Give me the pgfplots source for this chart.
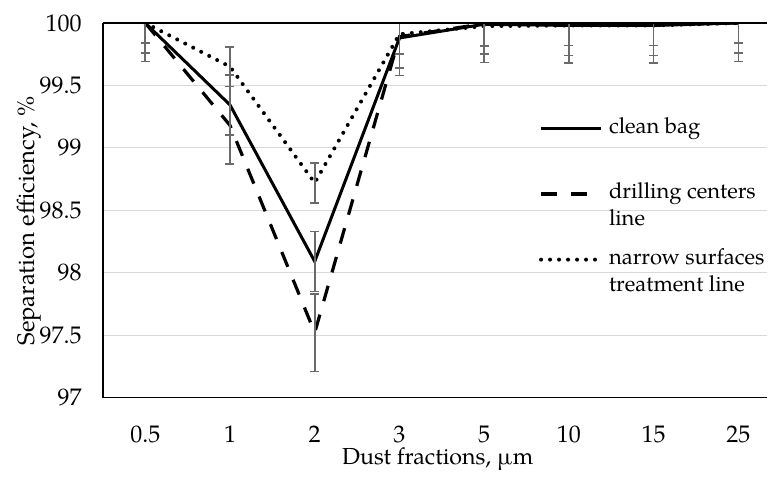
\documentclass[border=0pt,12pt]{standalone}
\usepackage{pgfplots}
\pgfplotsset{compat=1.18}
\usepackage{fontspec}
\setmainfont{TeX Gyre Pagella}

\definecolor{errgray}{HTML}{6A6A6A}
\definecolor{gridgray}{HTML}{D9D9D9}

\pgfplotsset{
  errstyle/.style={
    error bars/.cd,
      y dir=both, y fixed=#1,
      error bar style={errgray, line width=0.8pt, solid},
      error mark options={rotate=90, errgray, line width=0.8pt, mark size=2.25pt, solid},
  },
}

\begin{document}
\begin{tikzpicture}
\begin{axis}[
    name=ax,
    scale only axis,
    width=332.5pt, height=187.5pt,
    xmin=-0.5, xmax=7.34,
    ymin=97, ymax=100,
    ytick={97,97.5,98,98.5,99,99.5,100},
    xtick={0,...,7},
    xticklabels={0.5,1,2,3,5,10,15,25},
    major tick length=0pt,
    axis lines*=left,
    axis line style={line width=0.8pt},
    ymajorgrids,
    grid style={gridgray, line width=0.6pt},
    /pgf/number format/assume math mode=true,
    xticklabel style={yshift=-10pt},
    yticklabel style={xshift=-6.5pt},
    xlabel={Dust fractions, µm},
    ylabel={Separation efficiency, \%},
    xlabel style={at={(axis description cs:0.504,0)}, anchor=north, yshift=-21pt,
      font=\fontsize{11.6}{14}\selectfont},
    ylabel style={at={(axis description cs:-0.080,0.471)}, anchor=south},
    legend style={draw=none, fill=none, inner sep=0pt, column sep=3pt, row sep=9.55pt,
      at={(rel axis cs:0.656,0.749)}, anchor=north west,
      font=\fontsize{11}{13.5}\selectfont,
      nodes={inner sep=0pt, anchor=base west, align=left}},
    legend image code/.code={\draw[#1] (0pt,16pt) -- (30pt,16pt);},
]
% clean bag
\addplot[black, line width=1.5pt, errstyle=0.24] coordinates {
  (0,100) (1,99.344) (2,98.09) (3,99.88) (4,99.99) (5,99.98) (6,99.98) (7,100)
};
\addlegendentry{clean bag\\\mbox{}}
% drilling centers line
\addplot[black, line width=1.6pt, dash pattern=on 8pt off 7pt, errstyle=0.31] coordinates {
  (0,100) (1,99.18) (2,97.52) (3,99.89) (4,99.995) (5,99.99) (6,99.99) (7,100)
};
\addlegendentry{drilling centers\\line}
% narrow surfaces treatment line
\addplot[black, line width=2pt, line cap=round, dash pattern=on 0pt off 4.5pt, errstyle=0.16] coordinates {
  (0,100) (1,99.65) (2,98.72) (3,99.91) (4,99.975) (5,99.98) (6,99.98) (7,100)
};
\addlegendentry{narrow surfaces\\treatment line}
\end{axis}
\draw[line width=0.8pt] (ax.north west) -- (ax.north east);
\path ([shift={(-51.5pt,-36.5pt)}]ax.south west) rectangle ([shift={(332.5pt,199pt)}]ax.south west);
\end{tikzpicture}
\end{document}
